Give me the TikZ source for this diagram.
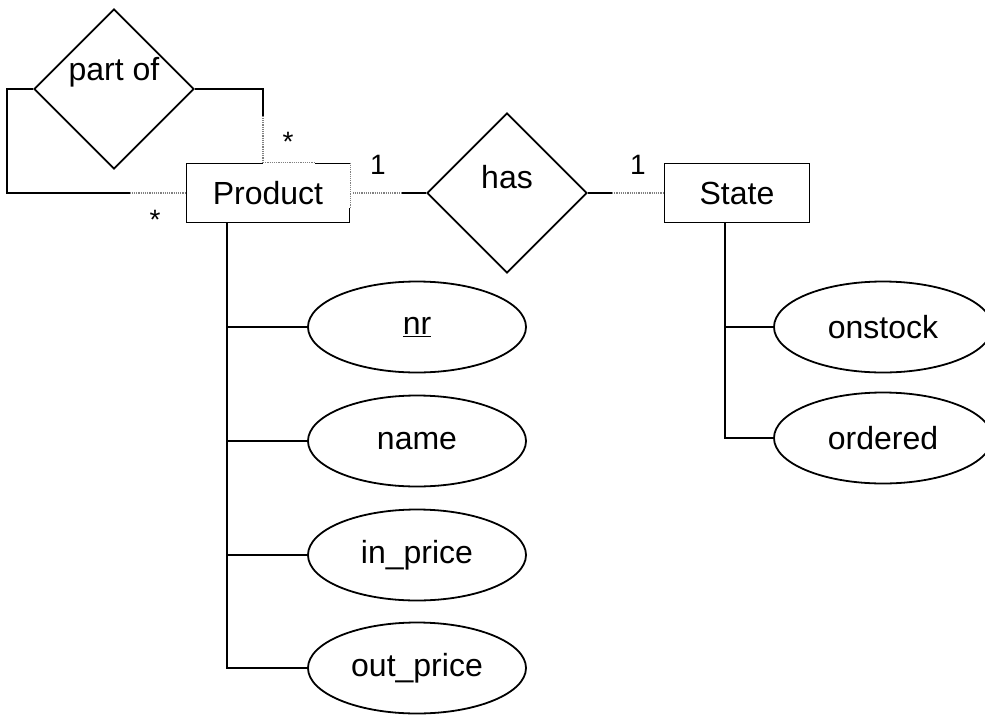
\documentclass[tikz,border=0pt]{standalone}
\usepackage{fontspec}
\setmainfont{Liberation Sans}
\usetikzlibrary{positioning}
\usetikzlibrary{shapes.geometric}

\begin{document}
\begin{tikzpicture}
		[x=1pt, y=-1pt, line width=1.8pt,
		every node/.style={font=\fontsize{32}{38}\selectfont},
		entity/.style={rectangle, draw=black, minimum width=163pt, minimum height=59pt, inner sep=0pt},
		relation/.style={diamond, draw=black, aspect=1, minimum size=160pt, inner sep=0pt},
		attribute/.style={ellipse, draw=black, minimum width=218pt, minimum height=91pt, inner sep=0pt},
		mult/.style={font=\fontsize{28}{32}\selectfont, inner sep=0pt},
		dotline/.style={densely dotted, gray, line width=1.2pt}]
		\useasboundingbox (0,0) rectangle (985,715);

		\node[entity] (product) at (268,193) {Product};
		\node[entity, minimum width=145pt] (state) at (737,193) {State};
		\node[relation, label={[yshift=16pt]center:has}] (has) at (507,193) {};
		\node[relation, label={[yshift=17pt]center:part of}] (partof) at (114,89) {};

		\node[attribute] (nr) at (417,327) {\underline{nr}};
		\node[attribute] (name) at (417,441) {name};
		\node[attribute] (inprice) at (417,555) {in\_price};
		\node[attribute] (outprice) at (417,668) {out\_price};
		\node[attribute] (onstock) at (883,327) {onstock};
		\node[attribute] (ordered) at (883,438) {ordered};

		% attribute lines
		\coordinate (ptrunk) at ([xshift=-41pt]product.south);
		\draw (ptrunk) |- (outprice.west);
		\foreach \attr in {nr, name, inprice}
			\draw (\attr.west -| ptrunk) -- (\attr.west);
		\coordinate (strunk) at ([xshift=-12pt]state.south);
		\draw (strunk) |- (ordered.west);
		\draw (onstock.west -| strunk) -- (onstock.west);

		% relationships
		\coordinate (hasl) at ([xshift=-24pt]has.west);
		\coordinate (hasr) at ([xshift=24pt]has.east);
		\draw[dotline] (product.east) -- (hasl);
		\draw (hasl) -- (has.west);
		\draw (has.east) -- (hasr);
		\draw[dotline] (hasr) -- (state.west);

		\coordinate (loopl) at ([xshift=-56pt]product.west);
		\coordinate (loopr) at ([xshift=-5pt,yshift=47pt]product.north);
		\draw (partof.west) -- ++(-26,0) |- (loopl);
		\draw[dotline] (loopl) -- (product.west);
		\draw (partof.east) -| (loopr);
		\draw[dotline] (loopr) -- (loopr |- product.north);

		% dotted pieces of the box
		\draw[white, line width=2.4pt] (loopr |- product.north) -- ([xshift=-35pt]product.north east);
		\draw[dotline] (loopr |- product.north) -- ([xshift=-35pt]product.north east);
		\draw[white, line width=2.4pt] ([yshift=-1pt]product.north east) -- ([yshift=15pt]product.south east);
		\draw[dotline] (product.north east) -- ([yshift=15pt]product.south east);

		\node[mult] (mtop) at (288,142) {*};
		\node[mult] (mbot) at (155,220) {*};
		\node[mult] (mone) at (378,165) {1};
		\node[mult] (mtwo) at (638,165) {1};
	\end{tikzpicture}
\end{document}
